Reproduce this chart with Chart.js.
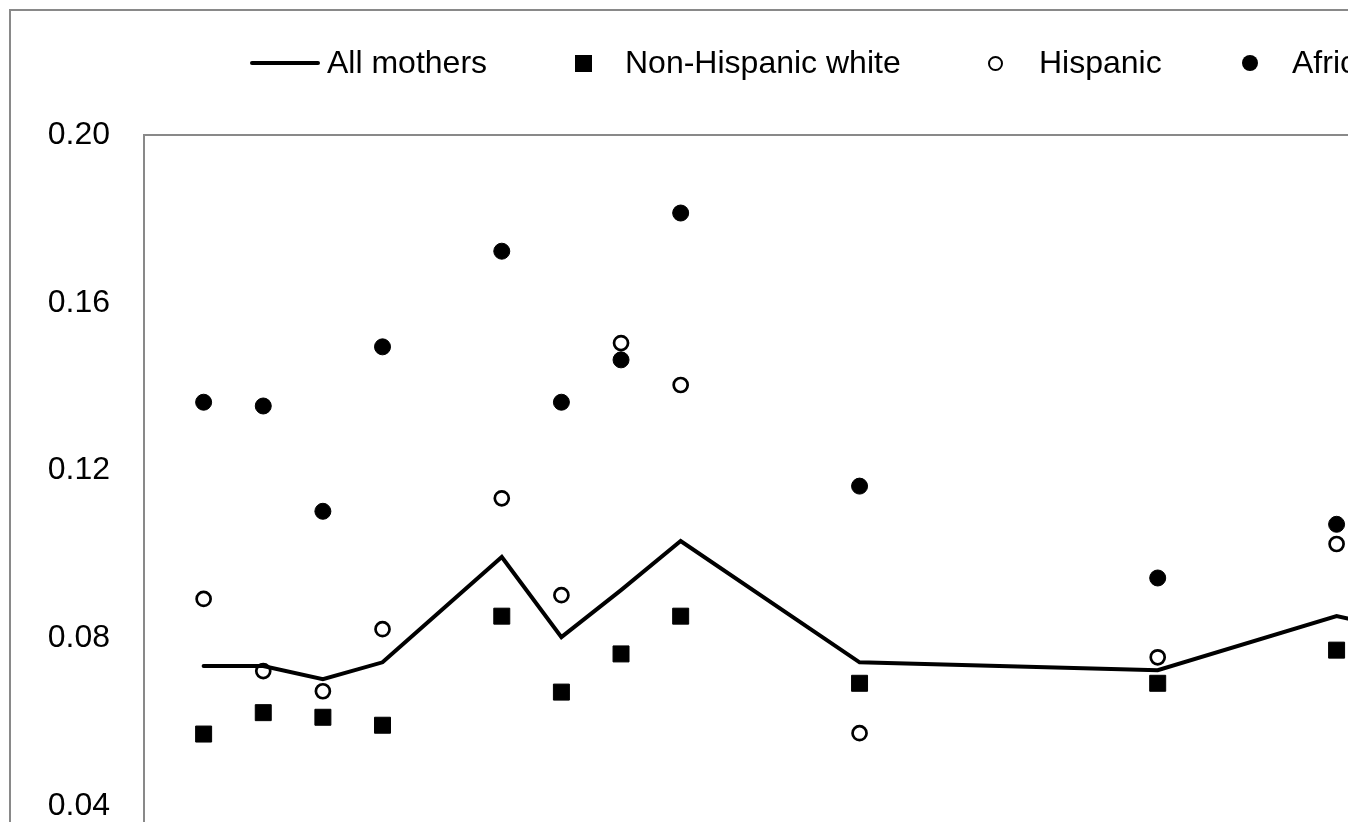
<!DOCTYPE html>
<html>
<head>
<meta charset="utf-8">
<script src="https://cdn.jsdelivr.net/npm/chart.js@4.4.1/dist/chart.umd.min.js"></script>
<style>
  body { margin: 0; overflow: hidden; background: #fff; font-family: "Liberation Sans", Arial, sans-serif; }
  #frame { position: absolute; left: 9px; top: 9px; width: 1760px; height: 1050px; border: 2px solid #898989; }
  #chart_mothers { position: absolute; left: 0; top: 0; }
  .lg { position: absolute; top: 46px; font-size: 32px; line-height: 32px; color: #000; white-space: nowrap; }
  .mk { position: absolute; box-sizing: border-box; }
</style>
</head>
<body>
<div id="frame">
  <canvas id="chart_mothers" width="1760" height="1050"></canvas>
</div>
<script>
// x position of each survey point (evenly spaced units, gaps where no survey)
let xPos = [0, 1, 2, 3, 5, 6, 7, 8, 11, 16, 19, 20];

let allMothers = [0.0734, 0.0734, 0.0703, 0.0743, 0.0994, 0.0803, 0.0915, 0.1032, 0.0743, 0.0724, 0.0853, 0.0822];
let nonHispWhite = [0.0572, 0.0623, 0.0612, 0.0593, 0.0853, 0.0672, 0.0763, 0.0853, 0.0693, 0.0693, 0.0772, null];
let hispanic = [0.0894, 0.0722, 0.0674, 0.0822, 0.1134, 0.0903, 0.1504, 0.1404, 0.0574, 0.0755, 0.1025, null];
let africanAm = [0.1363, 0.1354, 0.1103, 0.1495, 0.1723, 0.1363, 0.1464, 0.1814, 0.1163, 0.0944, 0.1072, null];

let yTicks = [0, 0.04, 0.08, 0.12, 0.16, 0.20];

function pts(vals) {
    return vals.map((v, i) => ({ x: xPos[i], y: v }));
}

// box round the plot area
const plotBox = {
    id: "plotBox",
    beforeDatasetsDraw(chart) {
        const a = chart.chartArea;
        const c = chart.ctx;
        c.save();
        c.strokeStyle = "#898989";
        c.lineWidth = 2;
        c.strokeRect(a.left, a.top, a.right - a.left, a.bottom - a.top);
        c.restore();
    }
};

const ctx_mothers = document.getElementById("chart_mothers");

new Chart(ctx_mothers, {
    type: "line",
    data: {
        datasets: [
            {
                label: "All mothers",
                data: pts(allMothers),
                borderColor: "#000",
                borderWidth: 4,
                borderCapStyle: "round",
                pointRadius: 0,
                tension: 0,
            },
            {
                label: "Non-Hispanic white",
                data: pts(nonHispWhite),
                showLine: false,
                pointStyle: "rect",
                pointRadius: 11.3,
                backgroundColor: "#000",
                borderColor: "#000",
                borderWidth: 1,
            },
            {
                label: "Hispanic",
                data: pts(hispanic),
                showLine: false,
                pointStyle: "circle",
                pointRadius: 7,
                backgroundColor: "#fff",
                borderColor: "#000",
                borderWidth: 2.7,
            },
            {
                label: "African American",
                data: pts(africanAm),
                showLine: false,
                pointStyle: "circle",
                pointRadius: 8,
                backgroundColor: "#000",
                borderColor: "#000",
                borderWidth: 1,
            },
        ]
    },
    options: {
        responsive: false,
        animation: false,
        layout: {
            padding: { left: 0, top: 124, right: 17, bottom: 87 }
        },
        plugins: {
            legend: { display: false },
            tooltip: { enabled: false },
        },
        scales: {
            x: {
                type: "linear",
                min: -1,
                max: 26,
                display: false,
            },
            y: {
                min: 0,
                max: 0.20,
                afterFit: (s) => { s.width = 133; },
                afterBuildTicks: (s) => { s.ticks = yTicks.map(v => ({ value: v })); },
                grid: { display: false, drawTicks: false },
                border: { display: false },
                ticks: {
                    padding: 34,
                    color: "#000",
                    font: { family: "Liberation Sans", size: 32 },
                    callback: (v) => v.toFixed(2),
                }
            }
        }
    },
    plugins: [plotBox]
});
</script>
<div class="mk" style="left:250px; top:61px; width:70px; height:4px; background:#000; border-radius:2px;"></div>
<div class="lg" style="left:327px;">All mothers</div>
<div class="mk" style="left:575px; top:55px; width:17px; height:17px; background:#000;"></div>
<div class="lg" style="left:625px;">Non-Hispanic white</div>
<div class="mk" style="left:988px; top:56px; width:15px; height:15px; border:2.5px solid #000; border-radius:50%; background:#fff;"></div>
<div class="lg" style="left:1039px;">Hispanic</div>
<div class="mk" style="left:1242px; top:55px; width:16px; height:16px; border-radius:50%; background:#000;"></div>
<div class="lg" style="left:1292px;">African American</div>
</body>
</html>
